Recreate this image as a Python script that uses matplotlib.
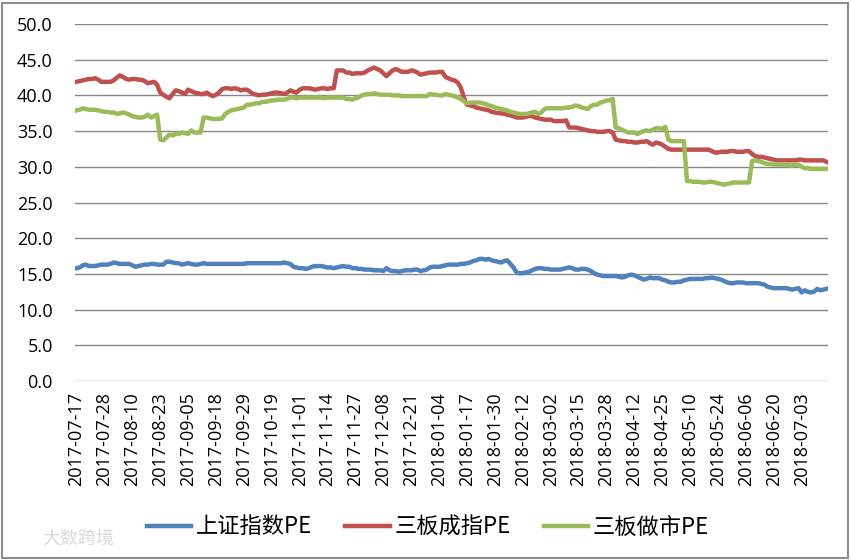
import matplotlib
matplotlib.use("Agg")
import matplotlib.pyplot as plt
from matplotlib.patches import Rectangle

plt.rcParams["font.family"] = ["Open Sans", "Noto Sans CJK SC", "DejaVu Sans"]

# tick labels, one every 9 trading days
date_labels = [
    "2017-07-17", "2017-07-28", "2017-08-10", "2017-08-23", "2017-09-05",
    "2017-09-18", "2017-09-29", "2017-10-19", "2017-11-01", "2017-11-14",
    "2017-11-27", "2017-12-08", "2017-12-21", "2018-01-04", "2018-01-17",
    "2018-01-30", "2018-02-12", "2018-03-02", "2018-03-15", "2018-03-28",
    "2018-04-12", "2018-04-25", "2018-05-10", "2018-05-24", "2018-06-06",
    "2018-06-20", "2018-07-03",
]
label_step = 9

# 上证指数PE (one value per trading day, 9 per row)
sh_pe = [
    15.8, 15.9, 16.2, 16.3, 16.1, 16.1, 16.1, 16.2, 16.3,
    16.3, 16.3, 16.4, 16.6, 16.5, 16.4, 16.4, 16.4, 16.4,
    16.2, 16.0, 16.1, 16.2, 16.3, 16.3, 16.4, 16.4, 16.3,
    16.3, 16.3, 16.7, 16.7, 16.6, 16.5, 16.5, 16.3, 16.4,
    16.5, 16.4, 16.3, 16.3, 16.4, 16.5, 16.4, 16.4, 16.4,
    16.4, 16.4, 16.4, 16.4, 16.4, 16.4, 16.4, 16.4, 16.4,
    16.4, 16.5, 16.5, 16.5, 16.5, 16.5, 16.5, 16.5, 16.5,
    16.5, 16.5, 16.5, 16.5, 16.6, 16.5, 16.4, 16.0, 15.9,
    15.8, 15.8, 15.7, 15.8, 16.0, 16.1, 16.1, 16.1, 16.0,
    15.9, 15.9, 15.8, 15.9, 16.0, 16.1, 16.0, 16.0, 15.8,
    15.8, 15.7, 15.7, 15.6, 15.6, 15.6, 15.5, 15.5, 15.5,
    15.4, 15.8, 15.5, 15.4, 15.4, 15.3, 15.4, 15.5, 15.5,
    15.5, 15.6, 15.6, 15.4, 15.5, 15.6, 15.9, 16.0, 16.0,
    16.0, 16.1, 16.2, 16.3, 16.3, 16.3, 16.3, 16.4, 16.4,
    16.5, 16.6, 16.8, 16.9, 17.1, 17.1, 17.0, 17.1, 16.9,
    16.8, 16.7, 16.6, 16.8, 16.9, 16.4, 15.9, 15.2, 15.1,
    15.1, 15.2, 15.3, 15.5, 15.7, 15.8, 15.8, 15.7, 15.7,
    15.6, 15.6, 15.6, 15.6, 15.7, 15.8, 15.9, 15.8, 15.6,
    15.6, 15.7, 15.7, 15.6, 15.4, 15.1, 14.9, 14.8, 14.7,
    14.7, 14.7, 14.7, 14.7, 14.6, 14.5, 14.6, 14.8, 14.9,
    14.8, 14.6, 14.4, 14.2, 14.3, 14.5, 14.4, 14.4, 14.4,
    14.2, 14.1, 13.9, 13.8, 13.8, 13.9, 13.9, 14.1, 14.2,
    14.3, 14.3, 14.3, 14.3, 14.3, 14.4, 14.4, 14.5, 14.4,
    14.3, 14.2, 14.0, 13.8, 13.7, 13.7, 13.8, 13.8, 13.8,
    13.7, 13.7, 13.7, 13.7, 13.7, 13.6, 13.5, 13.2, 13.1,
    13.0, 13.0, 13.0, 13.0, 13.0, 12.9, 12.8, 12.9, 13.0,
    12.4, 12.7, 12.5, 12.4, 12.5, 12.9, 12.7, 12.8, 12.9,
]

# 三板成指PE
sb_cz_pe = [
    41.9, 42.0, 42.1, 42.2, 42.3, 42.3, 42.4, 42.2, 41.9,
    41.9, 41.9, 41.9, 42.1, 42.5, 42.8, 42.6, 42.3, 42.2,
    42.3, 42.3, 42.2, 42.2, 42.0, 41.7, 41.8, 41.9, 41.5,
    40.4, 40.1, 39.8, 39.6, 40.2, 40.7, 40.6, 40.4, 40.2,
    40.8, 40.6, 40.4, 40.3, 40.2, 40.2, 40.4, 40.1, 39.9,
    40.1, 40.4, 40.9, 41.0, 41.0, 40.9, 41.0, 40.9, 40.7,
    40.8, 40.8, 40.5, 40.2, 40.1, 40.0, 40.1, 40.1, 40.2,
    40.3, 40.4, 40.4, 40.3, 40.2, 40.4, 40.7, 40.5, 40.4,
    40.8, 41.0, 41.0, 41.0, 40.9, 40.8, 40.9, 41.0, 41.0,
    40.9, 41.0, 41.0, 43.5, 43.5, 43.5, 43.2, 43.2, 43.0,
    43.1, 43.1, 43.1, 43.2, 43.5, 43.7, 43.9, 43.7, 43.5,
    43.1, 42.7, 43.1, 43.5, 43.7, 43.5, 43.3, 43.3, 43.3,
    43.5, 43.4, 43.2, 42.9, 43.0, 43.1, 43.2, 43.2, 43.2,
    43.3, 43.3, 42.6, 42.4, 42.2, 42.1, 41.8, 41.1, 39.7,
    38.7, 38.6, 38.5, 38.3, 38.2, 38.1, 38.0, 37.9, 37.7,
    37.6, 37.5, 37.5, 37.4, 37.3, 37.2, 37.1, 36.9, 36.9,
    36.9, 37.0, 37.1, 37.1, 36.9, 36.8, 36.7, 36.6, 36.6,
    36.6, 36.4, 36.4, 36.4, 36.4, 36.5, 35.5, 35.5, 35.5,
    35.4, 35.3, 35.2, 35.1, 35.0, 35.0, 34.9, 34.9, 34.9,
    35.0, 35.0, 34.8, 33.8, 33.7, 33.6, 33.6, 33.5, 33.5,
    33.4, 33.4, 33.5, 33.5, 33.6, 33.3, 33.1, 33.4, 33.3,
    33.1, 32.8, 32.5, 32.4, 32.4, 32.4, 32.4, 32.4, 32.4,
    32.4, 32.4, 32.4, 32.4, 32.4, 32.4, 32.4, 32.2, 32.0,
    32.0, 32.1, 32.1, 32.1, 32.2, 32.2, 32.1, 32.1, 32.1,
    32.2, 32.2, 31.8, 31.5, 31.4, 31.4, 31.3, 31.2, 31.1,
    31.0, 30.9, 30.9, 30.9, 30.9, 30.9, 30.9, 30.9, 31.0,
    31.0, 30.9, 30.9, 30.9, 30.9, 30.9, 30.9, 30.9, 30.7,
]

# 三板做市PE
sb_zs_pe = [
    37.9, 38.0, 38.2, 38.1, 38.0, 38.0, 38.0, 37.9, 37.8,
    37.7, 37.7, 37.6, 37.6, 37.4, 37.5, 37.6, 37.5, 37.3,
    37.1, 37.0, 36.9, 36.9, 37.0, 37.3, 36.9, 37.1, 37.3,
    33.8, 33.7, 34.1, 34.5, 34.4, 34.6, 34.6, 34.8, 34.7,
    34.6, 35.1, 34.8, 34.8, 34.8, 36.9, 36.9, 36.8, 36.7,
    36.7, 36.7, 36.8, 37.4, 37.7, 37.9, 38.0, 38.1, 38.2,
    38.3, 38.7, 38.7, 38.8, 38.9, 38.9, 39.1, 39.1, 39.2,
    39.3, 39.3, 39.4, 39.4, 39.4, 39.5, 39.7, 39.7, 39.6,
    39.7, 39.7, 39.7, 39.7, 39.7, 39.7, 39.7, 39.7, 39.6,
    39.7, 39.7, 39.7, 39.7, 39.7, 39.7, 39.5, 39.5, 39.4,
    39.6, 39.7, 40.0, 40.1, 40.2, 40.2, 40.3, 40.2, 40.1,
    40.1, 40.1, 40.1, 40.0, 40.0, 40.0, 39.9, 39.9, 39.9,
    39.9, 39.9, 39.9, 39.9, 39.9, 39.9, 40.2, 40.1, 40.1,
    40.0, 40.0, 40.2, 40.1, 40.0, 39.9, 39.7, 39.5, 39.2,
    38.9, 39.0, 39.0, 39.0, 39.0, 38.9, 38.8, 38.6, 38.5,
    38.3, 38.2, 38.1, 38.0, 37.9, 37.7, 37.6, 37.5, 37.4,
    37.4, 37.4, 37.5, 37.6, 37.7, 37.4, 37.6, 38.1, 38.2,
    38.2, 38.2, 38.2, 38.2, 38.2, 38.3, 38.3, 38.4, 38.6,
    38.5, 38.3, 38.2, 38.1, 38.5, 38.7, 38.7, 39.0, 39.1,
    39.3, 39.3, 39.5, 35.5, 35.4, 35.2, 35.0, 34.8, 34.8,
    34.8, 34.6, 34.8, 35.0, 35.1, 35.0, 35.2, 35.4, 35.4,
    35.3, 35.6, 33.8, 33.6, 33.6, 33.6, 33.6, 33.6, 28.0,
    28.0, 27.9, 27.9, 27.9, 27.8, 27.8, 27.9, 27.9, 27.8,
    27.7, 27.6, 27.5, 27.6, 27.7, 27.8, 27.8, 27.8, 27.8,
    27.8, 27.8, 30.8, 30.9, 30.8, 30.7, 30.5, 30.4, 30.4,
    30.3, 30.3, 30.3, 30.3, 30.3, 30.2, 30.2, 30.3, 30.3,
    30.0, 29.8, 29.8, 29.7, 29.7, 29.7, 29.7, 29.7, 29.7,
]

series_names = ["上证指数PE", "三板成指PE", "三板做市PE"]
colors = ["#4F81BD", "#C0504D", "#9BBB59"]

fig = plt.figure(figsize=(8.51, 5.60), dpi=100)
ax = fig.add_axes([75 / 851, 1 - 381 / 560, 753 / 851, 357 / 560])

x = list(range(len(sh_pe)))
for vals, name, c in zip([sh_pe, sb_cz_pe, sb_zs_pe], series_names, colors):
    ax.plot(x, vals, color=c, lw=3.2, label=name, solid_joinstyle="round")

ax.set_xlim(-0.5, len(sh_pe) - 0.5)
ax.set_ylim(0, 50)
ax.set_yticks(range(0, 51, 5))
ax.set_yticklabels(["%.1f" % v for v in range(0, 51, 5)], fontsize=13)
ax.set_xticks(range(0, len(date_labels) * label_step, label_step))
ax.set_xticklabels(date_labels, rotation=90, fontsize=13)
ax.tick_params(axis="x", length=0, pad=8)
ax.tick_params(axis="y", length=0, pad=16)

ax.grid(axis="y", color="#868686", lw=1)
ax.set_axisbelow(True)
for s in ax.spines.values():
    s.set_visible(False)

fig.legend(loc="center", bbox_to_anchor=(0.503, 0.059), ncol=3, frameon=False,
           prop={"family": ["Noto Sans CJK SC"], "size": 16},
           handlelength=2.0, handletextpad=0.2, columnspacing=1.5)

# outer frame and watermark
fig.patches.append(Rectangle((0.002, 0.004), 0.995, 0.99, transform=fig.transFigure,
                             fill=False, edgecolor="#8c8c8c", lw=1.5))
fig.text(0.05, 0.03, "大数跨境", fontsize=13, color="#d9d9d9",
         family=["Noto Sans CJK SC"])

fig.savefig("out.png", dpi=100)
